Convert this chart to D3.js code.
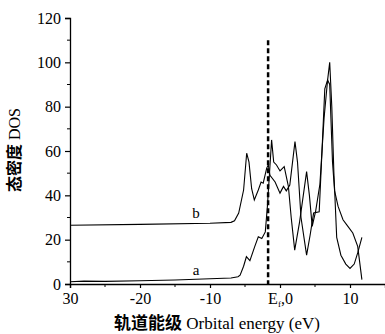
<!DOCTYPE html>
<html>
<head>
<meta charset="utf-8">
<script src="https://cdn.jsdelivr.net/npm/d3@7"></script>
<style>
  body { margin: 0; background: #fff; }
  svg { display: block; }
</style>
</head>
<body>
<svg id="chart" width="385" height="334"></svg>
<script>
// values
const energyA = [-30, -28, -25, -20, -15, -10, -7, -6, -5.7, -5.2, -4.8, -4.3, -3.6, -3.1, -2.6, -2.1, -1.8, -1.5, -1.2, -0.9, -0.5, 0, 0.6, 1.0, 1.2, 1.6, 2.1, 2.8, 3.8, 4.2, 4.6, 5.1, 5.7, 6.3, 6.8, 7.1, 7.4, 7.7, 8.1, 8.7, 9.4, 10, 10.6, 11.1, 11.7];
const dosA    = [1.0, 1.3, 1.2, 1.5, 1.8, 2.4, 2.7, 3.3, 4, 8, 12.3, 10.5, 17, 21.3, 20.5, 23.5, 35, 50, 65, 55, 53.7, 51, 53, 47, 44, 30, 15.3, 28, 50.7, 40, 26, 33, 45, 75, 92, 100, 80, 50, 21, 13, 9, 7, 9, 14, 21];

const energyB = [-30, -20, -10, -7, -6.5, -5.9, -5.2, -4.76, -4.43, -4.05, -3.67, -3.1, -2.7, -2.4, -1.9, -1.67, -1.43, -0.7, 0, 0.5, 0.9, 1.4, 2.14, 2.5, 3.0, 3.8, 4.3, 4.8, 5.6, 6.0, 6.4, 6.8, 7.1, 7.5, 7.8, 8.3, 9, 9.7, 10.4, 11.1, 11.7];
const dosB    = [26.5, 26.9, 27.4, 27.8, 28.5, 32, 42.4, 59, 55, 43, 37.9, 42.4, 46, 45.5, 52.3, 53.7, 49, 46, 41, 44, 42, 44.6, 64.2, 55, 30, 13, 22, 32, 32.6, 60, 88, 92, 90, 55, 42, 35, 29, 26, 23, 17, 2];

const xTicks = [-30, -20, -10, 0, 10];
const xTickLabels = ['30', '-20', '-10', 'E0', '10'];
const yTicks = [0, 20, 40, 60, 80, 100, 120];
const fermiLevel = -1.7;

const svg = d3.select('#chart');
const x = d3.scaleLinear().domain([-30, 15]).range([70, 385]);
const y = d3.scaleLinear().domain([0, 120]).range([284, 18]);

const serif = "'Liberation Serif', 'DejaVu Serif', serif";

// y axis
const yAxis = svg.append('g')
  .attr('transform', 'translate(70,0)')
  .call(d3.axisLeft(y).tickValues(yTicks).tickSize(5).tickPadding(4).tickFormat(d3.format('d')));
yAxis.selectAll('line.minor')
  .data(d3.range(10, 120, 20)).enter()
  .append('line')
  .attr('x1', -3).attr('x2', 0)
  .attr('y1', d => y(d)).attr('y2', d => y(d))
  .attr('stroke', '#000');

// x axis
const xAxis = svg.append('g')
  .attr('transform', 'translate(0,284)')
  .call(d3.axisBottom(x).tickValues(xTicks).tickSize(4).tickPadding(5)
    .tickFormat((d, i) => xTickLabels[i]));
xAxis.selectAll('line.minor')
  .data(d3.range(-25, 15, 10)).enter()
  .append('line')
  .attr('x1', d => x(d)).attr('x2', d => x(d))
  .attr('y1', 0).attr('y2', 3)
  .attr('stroke', '#000');

svg.selectAll('.domain').attr('stroke', '#000').attr('stroke-width', 1.3);
svg.selectAll('.tick line').attr('stroke', '#000').attr('stroke-width', 1.2);
svg.selectAll('.tick text')
  .style('font-family', serif)
  .style('font-size', '16px')
  .attr('fill', '#000');

// Fermi level label with subscript
xAxis.selectAll('.tick text')
  .filter((d, i) => xTickLabels[i] === 'E0')
  .text(null)
  .call(t => {
    t.append('tspan').text('E');
    t.append('tspan').text('f').style('font-size', '9px').attr('dy', 3);
    t.append('tspan').text(',0').attr('dy', -3);
  });

// dashed Fermi line
svg.append('line')
  .attr('x1', x(fermiLevel)).attr('x2', x(fermiLevel))
  .attr('y1', y(110)).attr('y2', y(0))
  .attr('stroke', '#000')
  .attr('stroke-width', 2.5)
  .attr('stroke-dasharray', '5,3');

const line = d3.line().x(d => x(d[0])).y(d => y(d[1]));

svg.append('path')
  .datum(d3.zip(energyA, dosA))
  .attr('d', line)
  .attr('fill', 'none')
  .attr('stroke', '#000')
  .attr('stroke-width', 1.1);

svg.append('path')
  .datum(d3.zip(energyB, dosB))
  .attr('d', line)
  .attr('fill', 'none')
  .attr('stroke', '#000')
  .attr('stroke-width', 1.1);

// curve labels
svg.append('text')
  .attr('x', x(-12)).attr('y', y(4))
  .attr('text-anchor', 'middle')
  .style('font-family', serif).style('font-size', '15px')
  .text('a');
svg.append('text')
  .attr('x', x(-12)).attr('y', y(30))
  .attr('text-anchor', 'middle')
  .style('font-family', serif).style('font-size', '15px')
  .text('b');

// axis titles
const yTitle = svg.append('text')
  .attr('transform', 'translate(20,150) rotate(-90)')
  .attr('text-anchor', 'middle');
yTitle.append('tspan').text('态密度')
  .style('font-family', "'Noto Sans CJK SC', sans-serif")
  .style('font-weight', 'bold').style('font-size', '16px');
yTitle.append('tspan').text(' DOS')
  .style('font-family', serif).style('font-size', '16px');

const xTitle = svg.append('text')
  .attr('x', 217).attr('y', 329)
  .attr('text-anchor', 'middle');
xTitle.append('tspan').text('轨道能级')
  .style('font-family', "'Noto Sans CJK SC', sans-serif")
  .style('font-weight', 'bold').style('font-size', '17px');
xTitle.append('tspan').text(' Orbital energy (eV)')
  .style('font-family', serif).style('font-size', '17px');
</script>
</body>
</html>
